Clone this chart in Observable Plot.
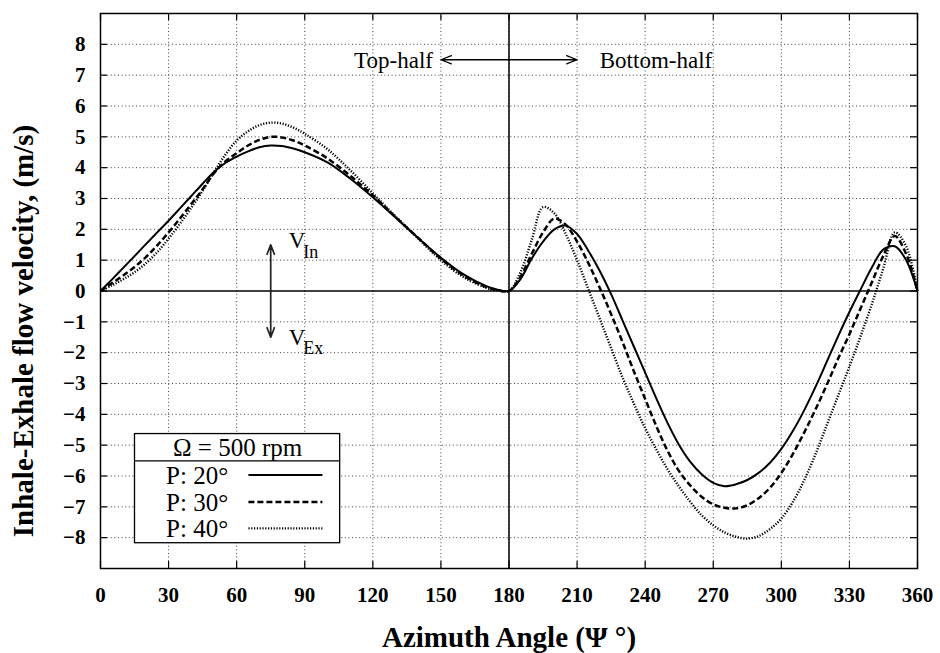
<!DOCTYPE html>
<html><head><meta charset="utf-8">
<script src="https://cdn.jsdelivr.net/npm/d3@7"></script>
<script src="https://cdn.jsdelivr.net/npm/@observablehq/plot@0.6"></script>
<style>body{margin:0;background:#fff} #chart svg{font-family:"Liberation Serif","Times New Roman",serif;background:#fff}</style>
</head><body><div id="chart"></div>
<script>
// Azimuth angle (deg)
const angles = [0,5,10,15,20,25,30,35,40,45,50,55,60,65,70,75,80,85,90,100,110,120,130,140,150,160,170,175,180,
  185,190,195,200,205,210,215,220,225,230,235,240,245,250,255,260,265,270,275,280,285,290,295,300,305,310,315,320,325,330,335,340,345,350,355,360];
// Inhale-Exhale flow velocity (m/s)
const p20 = [0,0.37,0.75,1.13,1.52,1.9,2.28,2.68,3.08,3.48,3.86,4.15,4.36,4.53,4.66,4.72,4.7,4.62,4.5,4.17,3.65,3.04,2.38,1.72,1.08,0.54,0.16,0.04,0,
  0.38,1.05,1.6,2.0,2.12,1.85,1.3,0.65,-0.1,-0.95,-1.8,-2.65,-3.5,-4.3,-5.0,-5.55,-5.95,-6.22,-6.33,-6.27,-6.13,-5.9,-5.57,-5.12,-4.55,-3.88,-3.12,-2.3,-1.47,-0.68,0.06,0.78,1.35,1.45,1.0,0];
const p30 = [0,0.25,0.5,0.78,1.1,1.48,1.9,2.35,2.82,3.3,3.82,4.2,4.47,4.72,4.9,5.0,4.98,4.88,4.72,4.3,3.74,3.1,2.4,1.72,1.05,0.5,0.13,0.03,0,
  0.45,1.2,1.9,2.35,2.15,1.6,0.9,0.1,-0.75,-1.65,-2.6,-3.5,-4.4,-5.2,-5.85,-6.32,-6.68,-6.92,-7.03,-7.05,-6.95,-6.72,-6.38,-5.9,-5.3,-4.6,-3.85,-3.05,-2.2,-1.4,-0.55,0.3,1.15,1.78,1.2,0];
const p40 = [0,0.18,0.38,0.61,0.9,1.26,1.7,2.18,2.7,3.25,3.85,4.42,4.88,5.18,5.38,5.46,5.43,5.3,5.1,4.6,3.92,3.17,2.42,1.7,1.0,0.45,0.1,0.02,0,
  0.6,1.65,2.72,2.52,1.85,1.0,0.05,-0.9,-1.85,-2.8,-3.65,-4.45,-5.15,-5.8,-6.35,-6.85,-7.28,-7.6,-7.83,-7.97,-8.03,-7.95,-7.72,-7.38,-6.85,-6.15,-5.3,-4.35,-3.4,-2.45,-1.45,-0.4,0.75,1.9,1.45,0];
const seriesNames = ["P: 20°","P: 30°","P: 40°"];
const xTicks = [0,30,60,90,120,150,180,210,240,270,300,330,360];
const yTicks = [-8,-7,-6,-5,-4,-3,-2,-1,0,1,2,3,4,5,6,7,8];
const legendTitle = "Ω = 500 rpm";
const xTitle = "Azimuth Angle (Ψ °)";
const yTitle = "Inhale-Exhale flow velocity, (m/s)";

const FONT = "Liberation Serif, Times New Roman, serif";
const styles = [
  {stroke:"#000", strokeWidth:2, strokeLinecap:"butt"},
  {stroke:"#000", strokeWidth:2.5, strokeDasharray:"6,3", strokeLinecap:"butt"},
  {stroke:"#000", strokeWidth:2.4, strokeDasharray:"1.2,1.6", strokeLinecap:"butt"}
];
const valueSets = [p20, p30, p40];
const rows = seriesNames.map((s, k) => angles.map((a, i) => ({a, v: valueSets[k][i], s})));

// annotation / legend placement (in data units)
const halfArrowY = 7.5;
const vArrowX = 75;
const legendBox = {x1: 15.2, x2: 105.6, y1: -8.18, y2: -4.64, sep: -5.51};
const legendRowsY = [-5.97, -6.84, -7.70];
const legend = seriesNames.map((s, k) => ({s, y: legendRowsY[k]}));

const W = 940, H = 653, mL = 100, mR = 23, mT = 13, mB = 85;
const fw = W - mL - mR, fh = H - mT - mB;
const grid = {stroke:"#000", strokeOpacity:0.75, strokeWidth:1, strokeDasharray:"1,2.6"};
const txt = {fontFamily: FONT, fill: "#000"};

const plot = Plot.plot({
  width: W, height: H, marginLeft: mL, marginRight: mR, marginTop: mT, marginBottom: mB,
  style: {fontFamily: FONT, background: "#fff", color: "#000"},
  x: {domain: [0, 360]},
  y: {domain: [-9, 9]},
  marks: [
    Plot.gridX(xTicks.filter(d => d > 0 && d < 360), grid),
    Plot.gridY(yTicks.filter(d => d !== 0), grid),
    Plot.ruleY([0], {stroke:"#000", strokeWidth:1.5}),
    Plot.ruleX([180], {stroke:"#000", strokeWidth:1.5}),
    ...rows.map((r, k) => Plot.line(r, {x:"a", y:"v", curve:"catmull-rom", ...styles[k]})),
    // legend
    Plot.rect([legendBox], {x1:"x1", x2:"x2", y1:"y1", y2:"y2", fill:"#fff", stroke:"#000", strokeWidth:1.3}),
    Plot.ruleY([legendBox.sep], {x1: legendBox.x1, x2: legendBox.x2, stroke:"#000", strokeWidth:1.3}),
    Plot.text([legendTitle], {x: (legendBox.x1 + legendBox.x2) / 2, y: (legendBox.y2 + legendBox.sep) / 2, fontSize: 25, dy: 1, ...txt}),
    Plot.text(legend, {x: 28.9, y: "y", text: "s", textAnchor: "start", fontSize: 25, dy: 1, ...txt}),
    ...legend.map((d, k) => Plot.ruleY([d.y], {x1: 65.4, x2: 98, ...styles[k]})),
    // frame and inward ticks
    Plot.frame({stroke:"#000", strokeWidth:1.5}),
    Plot.tickX(xTicks, {x: d => d, insetTop: fh - 7, stroke:"#000", strokeWidth:1.2}),
    Plot.tickX(xTicks, {x: d => d, insetBottom: fh - 7, stroke:"#000", strokeWidth:1.2}),
    Plot.tickY(yTicks, {y: d => d, insetRight: fw - 7, stroke:"#000", strokeWidth:1.2}),
    Plot.tickY(yTicks, {y: d => d, insetLeft: fw - 7, stroke:"#000", strokeWidth:1.2}),
    Plot.axisX({ticks: xTicks, tickSize: 0, tickPadding: 19, fontSize: 21, fontWeight: "bold", label: null, ...txt}),
    Plot.axisY({ticks: yTicks, tickSize: 0, tickPadding: 15, fontSize: 21, fontWeight: "bold", label: null, ...txt}),
    Plot.text([xTitle], {frameAnchor: "bottom", textAnchor: "middle", dy: 78, lineAnchor: "bottom", fontSize: 29, fontWeight: "bold", ...txt}),
    Plot.text([yTitle], {frameAnchor: "left", textAnchor: "middle", lineAnchor: "middle", dx: -77, dy: 40, rotate: -90, fontSize: 29, fontWeight: "bold", ...txt}),
    // top/bottom half annotation
    Plot.arrow([{x1:180, x2:150}, {x1:180, x2:210}], {x1:"x1", x2:"x2", y1: halfArrowY, y2: halfArrowY, stroke:"#000", strokeWidth:1.3, headLength: 13, headAngle: 42}),
    Plot.text(["Top-half"], {x: 146.5, y: halfArrowY, textAnchor: "end", fontSize: 23, dy: 1, ...txt}),
    Plot.text(["Bottom-half"], {x: 220, y: halfArrowY, textAnchor: "start", fontSize: 23, dy: 1, ...txt}),
    // V_In / V_Ex annotation
    Plot.arrow([{y1:0, y2:1.5}, {y1:0, y2:-1.5}], {x1: vArrowX, x2: vArrowX, y1:"y1", y2:"y2", stroke:"#222", strokeWidth:1.7, headLength: 9, headAngle: 42}),
    Plot.text(["V"], {x: 83, y: 1.38, textAnchor: "start", lineAnchor: "bottom", fontSize: 23, ...txt}),
    Plot.text(["In"], {x: 89.3, y: 1.08, textAnchor: "start", lineAnchor: "bottom", fontSize: 18, ...txt}),
    Plot.text(["V"], {x: 83, y: -1.76, textAnchor: "start", lineAnchor: "bottom", fontSize: 23, ...txt}),
    Plot.text(["Ex"], {x: 89.3, y: -2.04, textAnchor: "start", lineAnchor: "bottom", fontSize: 18, ...txt})
  ]
});
document.getElementById("chart").append(plot);
</script>
</body></html>
